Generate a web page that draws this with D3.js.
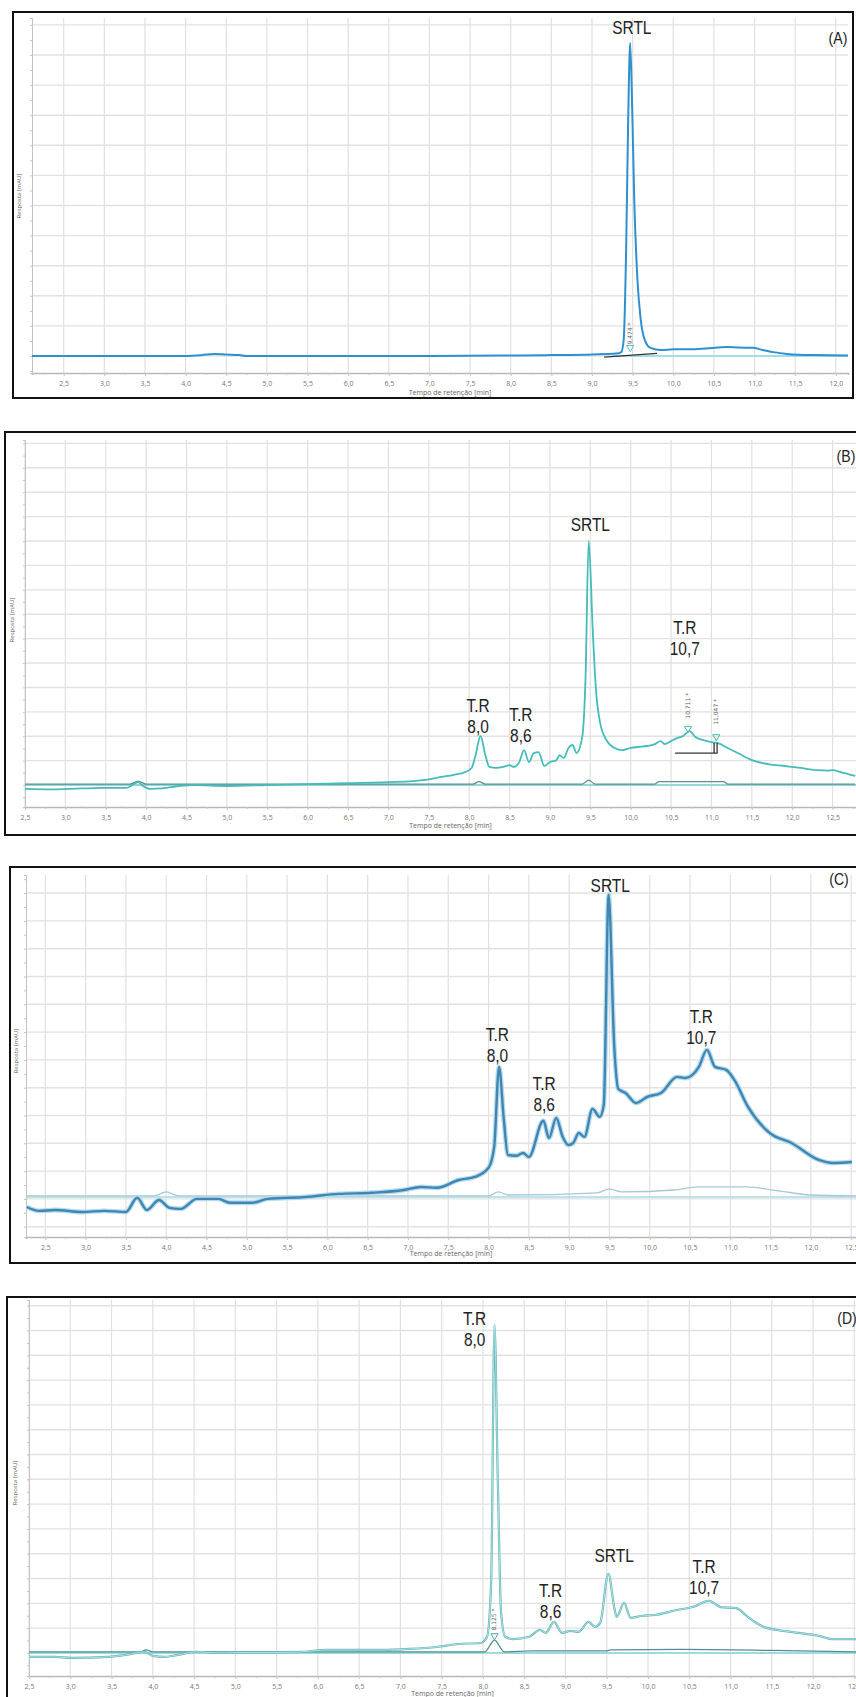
<!DOCTYPE html>
<html>
<head>
<meta charset="utf-8">
<script src="https://cdn.jsdelivr.net/npm/d3@7"></script>
<style>
  body { margin: 0; background: #fff; }
  svg { display: block; }
  .lbl { font-family: "Liberation Sans", Arial, sans-serif; font-size: 18px; fill: #222; }
  .tag { font-family: "Liberation Sans", Arial, sans-serif; font-size: 16px; fill: #222; }
  .tick text { font-family: "Open Sans", "DejaVu Sans", sans-serif; font-size: 7px; fill: #777; }
  .ttl { font-family: "Open Sans", "DejaVu Sans", sans-serif; font-size: 7px; fill: #666; }
  .note { font-family: "DejaVu Sans", sans-serif; font-size: 6px; fill: #666; }
</style>
</head>
<body>
<script>
// Chromatograms (A)-(D): retention time [min] vs response [mAU, arbitrary]

// (A)
const aTime = [2.11, 3.0, 4.0, 4.2, 4.35, 4.5, 4.66, 4.75, 6.0, 7.0, 7.9, 8.1, 8.5, 9.0, 9.3, 9.36, 9.39, 9.42, 9.445, 9.47, 9.495, 9.52, 9.56, 9.6, 9.65, 9.72, 9.85, 10.0, 10.2, 10.4, 10.55, 10.66, 10.8, 10.98, 11.1, 11.25, 11.4, 11.7, 12.15];
const aResp = [0, 0, 0, 0.3, 0.7, 0.5, 0.3, 0, 0, 0, 0.2, 0.2, 0.3, 0.5, 0.8, 1.3, 5.3, 35, 78, 104, 82, 52, 25, 12, 5.3, 2.7, 2.0, 2.2, 2.2, 2.5, 2.8, 3.0, 2.8, 2.7, 2.0, 1.2, 0.7, 0.3, 0.2];
const aBaseTime = [9.25, 12.15];
const aBaseResp = [0, 0];
const aIntTime = [9.15, 9.8];
const aIntResp = [-0.4, 0.9];

// (B)
const bTime = [2.5, 2.8, 3.2, 3.5, 3.75, 3.85, 3.9, 3.96, 4.05, 4.2, 4.4, 4.6, 5.0, 5.5, 6.0, 6.5, 7.0, 7.3, 7.5, 7.65, 7.8, 7.95, 8.03, 8.08, 8.14, 8.2, 8.25, 8.33, 8.42, 8.5, 8.55, 8.62, 8.68, 8.74, 8.8, 8.86, 8.93, 9.0, 9.08, 9.12, 9.17, 9.23, 9.28, 9.33, 9.4, 9.44, 9.48, 9.53, 9.57, 9.62, 9.7, 9.8, 9.9, 10.0, 10.1, 10.2, 10.3, 10.37, 10.42, 10.5, 10.58, 10.65, 10.73, 10.8, 10.9, 11.0, 11.08, 11.2, 11.35, 11.5, 11.7, 11.9, 12.1, 12.3, 12.45, 12.5, 12.6, 12.78];
const bResp = [-1.6, -1.8, -1.4, -1.2, -1.2, 0.4, 1.2, -0.4, -1.6, -1.4, -0.4, 0, -0.4, 0, 0.4, 0.8, 1.2, 1.6, 2.3, 3.3, 4.1, 5.3, 7.0, 12.3, 20.1, 12.3, 7.4, 7.0, 7.4, 8.2, 7.4, 9.4, 14.3, 9.4, 13.1, 13.5, 7.8, 9.4, 10.2, 12.3, 11.1, 15.2, 16.4, 13.1, 19.7, 43, 100, 63.5, 39, 25.8, 18.4, 15.2, 14.3, 15.2, 15.6, 16, 16.8, 18, 16.8, 18, 19.3, 20.1, 22.1, 19.7, 18.4, 17.6, 17.2, 15.2, 12.7, 10.2, 8.6, 7.8, 7.0, 6.1, 5.9, 6.1, 5.3, 3.7];
const bBlankTime = [2.5, 3.8, 3.9, 4.0, 8.05, 8.12, 8.2, 9.4, 9.48, 9.56, 10.3, 10.35, 11.15, 11.2, 12.78];
const bBlankResp = [0.4, 0.4, 1.6, 0.4, 0.4, 1.4, 0.4, 0.4, 2.0, 0.4, 0.4, 1.4, 1.4, 0.4, 0.4];

// (C)
const cTime = [2.27, 2.42, 2.62, 2.96, 3.23, 3.5, 3.64, 3.76, 3.91, 4.04, 4.18, 4.38, 4.65, 4.79, 5.06, 5.26, 5.73, 6.14, 6.55, 6.95, 7.16, 7.36, 7.63, 7.83, 8.0, 8.07, 8.13, 8.19, 8.24, 8.34, 8.43, 8.5, 8.68, 8.75, 8.84, 8.92, 8.99, 9.05, 9.12, 9.19, 9.29, 9.38, 9.43, 9.49, 9.56, 9.61, 9.7, 9.83, 9.97, 10.14, 10.34, 10.44, 10.61, 10.71, 10.81, 10.95, 11.05, 11.22, 11.49, 11.76, 12.1, 12.27, 12.51];
const cResp = [-2.9, -4.3, -4.0, -4.7, -4.3, -4.7, 0.4, -4.0, -0.4, -3.2, -3.6, 0, 0, -1.4, -1.4, 0, 0.7, 1.8, 2.2, 3.2, 4.3, 4.0, 6.8, 7.9, 11.2, 18.7, 47.5, 28.4, 15.8, 15.5, 16.5, 15.1, 28.1, 21.9, 29.1, 22.3, 19.4, 20.1, 23.7, 22.3, 32.4, 29.5, 33.8, 109.4, 54.7, 39.6, 38.1, 34.5, 36.7, 38.1, 43.9, 43.5, 47.5, 53.6, 47.5, 46.4, 42.8, 33.1, 23.7, 20.1, 14.0, 12.9, 13.3];
const cBlankTime = [2.27, 3.85, 4.0, 4.15, 8.0, 8.12, 8.25, 9.35, 9.5, 9.65, 10.3, 10.6, 11.2, 11.6, 12.0, 12.56];
const cBlankResp = [1.1, 1.1, 2.5, 1.1, 1.1, 2.5, 1.4, 2.2, 3.6, 2.5, 3.2, 4.3, 4.3, 2.9, 1.4, 1.1];

// (D)
const dTime = [2.5, 2.81, 3.01, 3.47, 3.67, 3.9, 4.0, 4.14, 4.27, 4.53, 4.8, 5.13, 5.46, 5.79, 6.12, 6.78, 7.11, 7.44, 7.7, 7.97, 8.05, 8.1, 8.14, 8.18, 8.22, 8.27, 8.36, 8.56, 8.69, 8.76, 8.86, 8.96, 9.06, 9.16, 9.28, 9.36, 9.42, 9.52, 9.59, 9.62, 9.71, 9.79, 9.92, 10.08, 10.35, 10.54, 10.74, 10.88, 11.07, 11.21, 11.4, 11.73, 12.07, 12.23, 12.52];
const dResp = [-1.6, -1.6, -2.0, -1.6, -0.8, 0.4, -1.2, -1.6, -1.0, 0.4, 0, 0.2, 0.2, 0.4, 1.2, 1.2, 1.6, 2.4, 3.6, 4.0, 6.5, 29.4, 132.3, 69.8, 16.1, 6.5, 5.6, 6.5, 9.3, 8.1, 12.5, 8.1, 8.9, 8.5, 12.5, 10.5, 12.1, 31.9, 18.5, 14.5, 20.2, 14.1, 14.9, 15.3, 17.3, 18.5, 21.0, 18.5, 18.1, 14.5, 10.5, 8.5, 6.9, 5.6, 5.6];
const dBlankTime = [2.5, 3.85, 3.92, 4.0, 8.02, 8.14, 8.26, 8.6, 9.5, 9.55, 10.4, 11.5, 12.52];
const dBlankResp = [0.4, 0.4, 1.2, 0.4, 0.4, 5.2, 0.4, 0.8, 0.8, 1.2, 1.4, 1.0, 0.4];

// axis ticks
const xTicks = d3.range(2.5, 13.01, 0.5);
const xTitle = 'Tempo de retenção [min]';
const yTitle = 'Resposta [mAU]';

const comma = v => d3.format('.1f')(v).replace('.', ',');

const width = 856, height = 1697;

const svg = d3.select('body').append('svg')
    .attr('width', width)
    .attr('height', height)
    .style('background', '#fff');

const panels = [
  {
    id: 'A', frame: [13, 12, 840, 386], left: 32, right: 848, top: 18, bottom: 373,
    xDomain: [2.11, 12.15], yDomain: [-5.65, 112.3], titleY: 393, yLabel: [19, 196],
    tagPos: [838, 40],
    main: [aTime, aResp], mainColor: '#2e90cf', mainWidth: 2,
    base: [aBaseTime, aBaseResp], baseColor: '#86dbe6',
    extra: [aIntTime, aIntResp], extraColor: '#333',
    labels: [{ text: ['SRTL'], t: 9.49, v: 108.5 }],
    notes: [{ text: '9,474', t: 9.47, v: 7.5 }],
    marks: [{ t: 9.47, v: 2.8, color: '#5ac3c8' }]
  },
  {
    id: 'B', frame: [5, 432, 900, 403], left: 25, right: 856, top: 440, bottom: 807,
    xDomain: [2.5, 12.79], yDomain: [-9.0, 141.4], titleY: 826, yLabel: [12, 620],
    tagPos: [846, 458],
    main: [bTime, bResp], mainColor: '#44bcb8', mainWidth: 1.8,
    base: [[2.5, 12.79], [0, 0]], baseColor: '#7ccfd0',
    blank: [bBlankTime, bBlankResp], blankColor: '#5a8f95',
    labels: [
      { text: ['SRTL'], t: 9.5, v: 106 },
      { text: ['T.R', '10,7'], t: 10.67, v: 64 },
      { text: ['T.R', '8,0'], t: 8.11, v: 32 },
      { text: ['T.R', '8,6'], t: 8.64, v: 28 }
    ],
    notes: [{ text: '10,711', t: 10.71, v: 32.5 }, { text: '11,047', t: 11.06, v: 30 }],
    marks: [{ t: 10.71, v: 23.2, color: '#44bcb8' }, { t: 11.06, v: 19.8, color: '#44bcb8' }],
    bracket: { t0: 10.55, t1: 11.07, v0: 13.1, v1: 17.2 }
  },
  {
    id: 'C', frame: [10, 867, 900, 396], left: 26, right: 856, top: 875, bottom: 1237,
    xDomain: [2.26, 12.56], yDomain: [-13.7, 116.5], titleY: 1254, yLabel: [16, 1051],
    tagPos: [839, 881],
    main: [cTime, cResp], mainColor: '#3f86b3', mainWidth: 2.4, halo: '#b7dbee',
    base: [[2.26, 12.56], [0.7, 0.7]], baseColor: '#a6dbe8',
    blank: [cBlankTime, cBlankResp], blankColor: '#a9c7d4',
    labels: [
      { text: ['SRTL'], t: 9.51, v: 112 },
      { text: ['T.R', '8,0'], t: 8.11, v: 58.5 },
      { text: ['T.R', '8,6'], t: 8.69, v: 41 },
      { text: ['T.R', '10,7'], t: 10.64, v: 65 }
    ],
    notes: [], marks: []
  },
  {
    id: 'D', frame: [7, 1297, 900, 420], left: 29, right: 856, top: 1300, bottom: 1676,
    xDomain: [2.5, 12.52], yDomain: [-9.3, 142.3], titleY: 1694, yLabel: [15, 1483],
    tagPos: [847, 1320],
    main: [dTime, dResp], mainColor: '#5fb3b8', mainWidth: 2.2, inner: '#c4ecec',
    base: [[2.5, 12.52], [0, 0]], baseColor: '#86d4d9',
    blank: [dBlankTime, dBlankResp], blankColor: '#4f8e96',
    labels: [
      { text: ['T.R', '8,0'], t: 7.9, v: 134 },
      { text: ['SRTL'], t: 9.59, v: 38.5 },
      { text: ['T.R', '8,6'], t: 8.82, v: 24.5 },
      { text: ['T.R', '10,7'], t: 10.68, v: 34 }
    ],
    notes: [{ text: '8,125', t: 8.14, v: 13.5 }],
    marks: [{ t: 8.14, v: 6.9, color: '#4f9ea6' }]
  }
];

panels.forEach(drawPanel);

function drawPanel(p) {
  const g = svg.append('g').attr('class', 'panel-' + p.id);

  const x = d3.scaleLinear().domain(p.xDomain).range([p.left, p.right]);
  const y = d3.scaleLinear().domain(p.yDomain).range([p.bottom, p.top]);

  const clipId = 'clip-' + p.id;
  g.append('clipPath').attr('id', clipId)
    .append('rect')
      .attr('x', p.left).attr('y', p.top - 2)
      .attr('width', p.right - p.left).attr('height', p.bottom - p.top + 2);

  // grid
  const ticks = xTicks.filter(t => t >= p.xDomain[0] && t <= p.xDomain[1]);
  g.append('g').selectAll('line').data(ticks).join('line')
      .attr('x1', d => x(d)).attr('x2', d => x(d))
      .attr('y1', p.top).attr('y2', p.bottom)
      .attr('stroke', '#e0e0e0').attr('stroke-width', 1.2);

  const yGrid = d3.range(Math.ceil(p.yDomain[0] / 10) * 10, p.yDomain[1], 10);
  g.append('g').selectAll('line').data(yGrid).join('line')
      .attr('x1', p.left).attr('x2', p.right)
      .attr('y1', d => y(d)).attr('y2', d => y(d))
      .attr('stroke', '#e2e2e2').attr('stroke-width', 1.4);

  // axes
  const minor = d3.range(Math.ceil(p.xDomain[0] * 4) / 4, p.xDomain[1], 0.25);
  g.append('g')
      .attr('transform', 'translate(0,' + p.bottom + ')')
      .call(d3.axisBottom(x).tickValues(minor).tickSize(2).tickFormat(''))
      .call(a => a.selectAll('line').attr('stroke', '#c8c8c8'))
      .call(a => a.select('.domain').attr('stroke', '#b8b8b8').attr('stroke-width', 1.5));

  g.append('g')
      .attr('transform', 'translate(0,' + p.bottom + ')')
      .call(d3.axisBottom(x).tickValues(ticks).tickSize(3).tickPadding(5).tickFormat(comma))
      .call(a => a.select('.domain').remove())
      .call(a => a.selectAll('line').attr('stroke', '#c8c8c8'));

  const yMinor = d3.range(Math.ceil(p.yDomain[0] / 5) * 5, p.yDomain[1], 5);
  g.append('g')
      .attr('transform', 'translate(' + p.left + ',0)')
      .call(d3.axisLeft(y).tickValues(yMinor).tickSize(2).tickFormat(''))
      .call(a => a.selectAll('line').attr('stroke', '#c4c4c4'))
      .call(a => a.select('.domain').attr('stroke', '#c4c4c4'));

  g.append('text').attr('class', 'ttl')
      .attr('x', (p.left + p.right) / 2 + 10).attr('y', p.titleY)
      .attr('text-anchor', 'middle').attr('dominant-baseline', 'middle')
      .text(xTitle);

  g.append('text').attr('class', 'ttl')
      .attr('transform', 'translate(' + p.yLabel[0] + ',' + p.yLabel[1] + ') rotate(-90)')
      .attr('text-anchor', 'middle').attr('dominant-baseline', 'middle')
      .style('font-size', '6px')
      .text(yTitle);

  // traces
  const line = d3.line()
      .x(d => x(d[0]))
      .y(d => y(d[1]))
      .curve(d3.curveMonotoneX);

  const plot = g.append('g').attr('clip-path', 'url(#' + clipId + ')');

  plot.append('path')
      .attr('d', line(d3.zip(p.base[0], p.base[1])))
      .attr('fill', 'none').attr('stroke', p.baseColor).attr('stroke-width', 1.4);

  if (p.blank) {
    plot.append('path')
        .attr('d', line(d3.zip(p.blank[0], p.blank[1])))
        .attr('fill', 'none').attr('stroke', p.blankColor).attr('stroke-width', 1.3);
  }
  if (p.extra) {
    plot.append('path')
        .attr('d', d3.line().x(d => x(d[0])).y(d => y(d[1]))(d3.zip(p.extra[0], p.extra[1])))
        .attr('fill', 'none').attr('stroke', p.extraColor).attr('stroke-width', 1.2);
  }

  const mainData = d3.zip(p.main[0], p.main[1]);
  if (p.halo) {
    plot.append('path')
        .attr('d', line(mainData))
        .attr('fill', 'none').attr('stroke', p.halo).attr('stroke-width', p.mainWidth + 2.5)
        .attr('stroke-linejoin', 'round');
  }
  plot.append('path')
      .attr('class', 'dataLine')
      .attr('d', line(mainData))
      .attr('fill', 'none').attr('stroke', p.mainColor).attr('stroke-width', p.mainWidth)
      .attr('stroke-linejoin', 'round');
  if (p.inner) {
    plot.append('path')
        .attr('d', line(mainData))
        .attr('fill', 'none').attr('stroke', p.inner).attr('stroke-width', 0.8);
  }

  // peak integration marks
  const tri = d3.symbol().type(d3.symbolTriangle).size(22);
  g.selectAll('.mark').data(p.marks).join('path')
      .attr('class', 'mark')
      .attr('d', tri)
      .attr('transform', d => 'translate(' + x(d.t) + ',' + y(d.v) + ') rotate(180)')
      .attr('fill', 'none').attr('stroke', d => d.color).attr('stroke-width', 1);

  g.selectAll('.note').data(p.notes).join('text')
      .attr('class', 'note')
      .attr('transform', d => 'translate(' + (x(d.t) + 2) + ',' + y(d.v) + ') rotate(-90)')
      .attr('text-anchor', 'middle')
      .text(d => d.text + ' *');

  if (p.bracket) {
    const b = p.bracket;
    g.append('path')
        .attr('d', 'M' + x(b.t0) + ',' + y(b.v0) + 'H' + x(b.t1) + 'V' + y(b.v1) +
                   'M' + (x(b.t1) - 3) + ',' + y(b.v0) + 'V' + y(b.v1))
        .attr('fill', 'none').attr('stroke', '#333').attr('stroke-width', 1.3);
  }

  // peak labels
  p.labels.forEach(l => {
    l.text.forEach((s, i) => {
      g.append('text').attr('class', 'lbl')
          .attr('transform', 'translate(' + x(l.t) + ',' + (y(l.v) + i * 21) + ') scale(0.86,1)')
          .attr('text-anchor', 'middle').attr('dominant-baseline', 'middle')
          .text(s);
    });
  });

  g.append('text').attr('class', 'tag')
      .attr('transform', 'translate(' + p.tagPos[0] + ',' + p.tagPos[1] + ') scale(0.88,1)')
      .attr('text-anchor', 'middle').attr('dominant-baseline', 'middle')
      .text('(' + p.id + ')');

  // frame
  g.append('rect')
      .attr('x', p.frame[0]).attr('y', p.frame[1])
      .attr('width', p.frame[2]).attr('height', p.frame[3])
      .attr('fill', 'none').attr('stroke', '#111').attr('stroke-width', 2);
}
</script>
</body>
</html>
